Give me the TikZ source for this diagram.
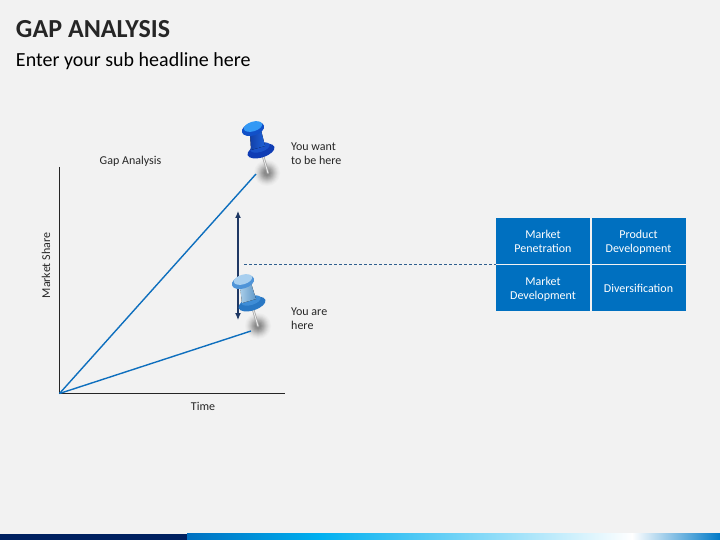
\documentclass[tikz,border=0pt]{standalone}
\usepackage{fontspec}
\setmainfont{Carlito}
\usetikzlibrary{arrows.meta}
\definecolor{bgc}{HTML}{F2F2F2}
\definecolor{lineblue}{HTML}{0E6FBE}
\definecolor{boxblue}{HTML}{0070C0}
\definecolor{navy}{HTML}{002060}
\definecolor{axisc}{HTML}{262626}
\definecolor{arrowc}{HTML}{1F3864}
\definecolor{dashc}{HTML}{2F5F8F}
\definecolor{midcyan}{HTML}{00B0F0}
\definecolor{needlec}{HTML}{A6A6A6}
\definecolor{topbase}{HTML}{0F3CB4}
\definecolor{topbaseb}{HTML}{1A52C8}
\definecolor{topstema}{HTML}{1240A8}
\definecolor{topstemb}{HTML}{1E62D8}
\definecolor{topside}{HTML}{1150C8}
\definecolor{topface}{HTML}{3399F5}
\definecolor{lowbase}{HTML}{2A78C4}
\definecolor{lowbaseb}{HTML}{3F8DD6}
\definecolor{lowstema}{HTML}{A9CDE8}
\definecolor{lowstemb}{HTML}{5E97C8}
\definecolor{lowside}{HTML}{4F94D8}
\definecolor{lowface}{HTML}{A8CFEF}
\newcommand{\cellpad}{\rule{0pt}{13.8pt}}
\tikzset{
  x=1pt,y=-1pt,
  axisline/.style={draw=axisc,line width=1.3pt},
  trend/.style={draw=lineblue,line width=1.4pt},
  gaparrow/.style={draw=arrowc,line width=1.2pt,{Latex[length=7pt,width=6pt]}-{Latex[length=7pt,width=6pt]}},
  lbl/.style={font=\fontsize{12}{14}\selectfont,text=black!85,align=left,inner sep=0pt},
  ctr/.style={lbl,align=center},
  cell/.style={fill=boxblue,minimum width=94pt,minimum height=46pt,inner sep=0pt,align=center,text=white,font=\fontsize{12}{14}\selectfont},
  pt/.style={inner sep=0pt,outer sep=0pt,minimum size=0pt}
}
\newcommand{\softshadow}[2]{%
  \foreach \r/\k in {13/2,12/4,11/7,10/11,9/15,8/20,7/25,6/30,5/35,4/39,3/43}{%
    \fill[black!\k!bgc] (#1,#2) circle (\r);}%
}
\begin{document}
\begin{tikzpicture}
\useasboundingbox (0,0) rectangle (720,540);
\fill[bgc] (0,0) rectangle (720,540);
% footer
\fill[navy] (0,533.5) rectangle (187,540);
\fill[left color=boxblue,right color=midcyan] (187,533.5) rectangle (320,540);
\fill[left color=midcyan,right color=white] (320,533.5) rectangle (632,540);
\fill[left color=white,right color=boxblue!85!midcyan] (632,533.5) rectangle (720,540);
% titles
\node[pt,anchor=base west,font=\fontsize{26}{30}\selectfont\bfseries,text=black!85] (title) at (16,37.5) {GAP ANALYSIS};
\node[pt,anchor=base west,font=\fontsize{20}{24}\selectfont,text=black] (sub) at (16,66.5) {Enter your sub headline here};
% axes
\coordinate (top) at (59.5,167);
\coordinate (org) at (59.5,393.5);
\coordinate (right) at (285,393.5);
\draw[axisline] (top) -- (org) -- (right);
\coordinate (hi) at (256,174);
\coordinate (lo) at (251,331);
% pin shadows lie under the lines
\softshadow{267}{173}
\softshadow{258}{326}
\draw[trend] (org) -- (hi);
\draw[trend] (org) -- (lo);
\node[ctr] (gaplabel) at (130.5,161) {Gap Analysis};
\node[ctr,rotate=90] (share) at (46,265.5) {Market Share};
\node[ctr] (time) at (203,406.5) {Time};
% gap arrow
\coordinate (ga) at (238,211);
\coordinate (gb) at (238,320);
\draw[gaparrow] (ga) -- (gb);
% matrix
\node[cell] (c1) at (543,241) {\cellpad Market\\\strut Penetration};
\node[cell] (c2) at (638.5,241) {\cellpad Product\\\strut Development};
\node[cell] (c3) at (543,287.5) {\cellpad Market\\\strut Development};
\node[cell] (c4) at (638.5,287.5) {\cellpad\strut Diversification\strut};
\coordinate (ds) at (244,264.5);
\draw[draw=dashc,line width=0.8pt,dash pattern=on 3pt off 2pt] (ds) -- (c1.south west |- ds);
% top pin
\draw[line width=2.4pt,needlec,line cap=round] (263,156) -- (268,173);
\draw[line width=0.9pt,white!92!black,line cap=round] (263,156) -- (268,173);
\fill[topbase,rotate around={17:(261,151)}] (261,151) ellipse (14 and 6.5);
\fill[topbaseb,rotate around={17:(260,147.5)}] (260,147.5) ellipse (10 and 4.5);
\fill[left color=topstema,right color=topstemb] (250,133) -- (261,130) -- (265,146) -- (251,150) -- cycle;
\fill[topside,rotate around={17:(253,129)}] (253,129) ellipse (11.5 and 6.5);
\fill[topface,rotate around={17:(253,126.5)}] (253,126.5) ellipse (9.5 and 4.8);
\node[lbl,anchor=west] (want) at (291,154) {You want\\to be here};
% bottom pin
\draw[line width=2.4pt,needlec,line cap=round] (253,309) -- (258,326);
\draw[line width=0.9pt,white!92!black,line cap=round] (253,309) -- (258,326);
\fill[lowbase,rotate around={17:(252,304)}] (252,304) ellipse (14 and 6.5);
\fill[lowbaseb,rotate around={17:(251,300.5)}] (251,300.5) ellipse (10 and 4.5);
\fill[left color=lowstema,right color=lowstemb] (240,286) -- (251,283) -- (256,299) -- (242,303) -- cycle;
\fill[lowside,rotate around={17:(243,282)}] (243,282) ellipse (11.5 and 6.5);
\fill[lowface,rotate around={17:(243,279.5)}] (243,279.5) ellipse (9.5 and 4.8);
\node[lbl,anchor=west] (here) at (291,319) {You are\\here};
\end{tikzpicture}
\end{document}
